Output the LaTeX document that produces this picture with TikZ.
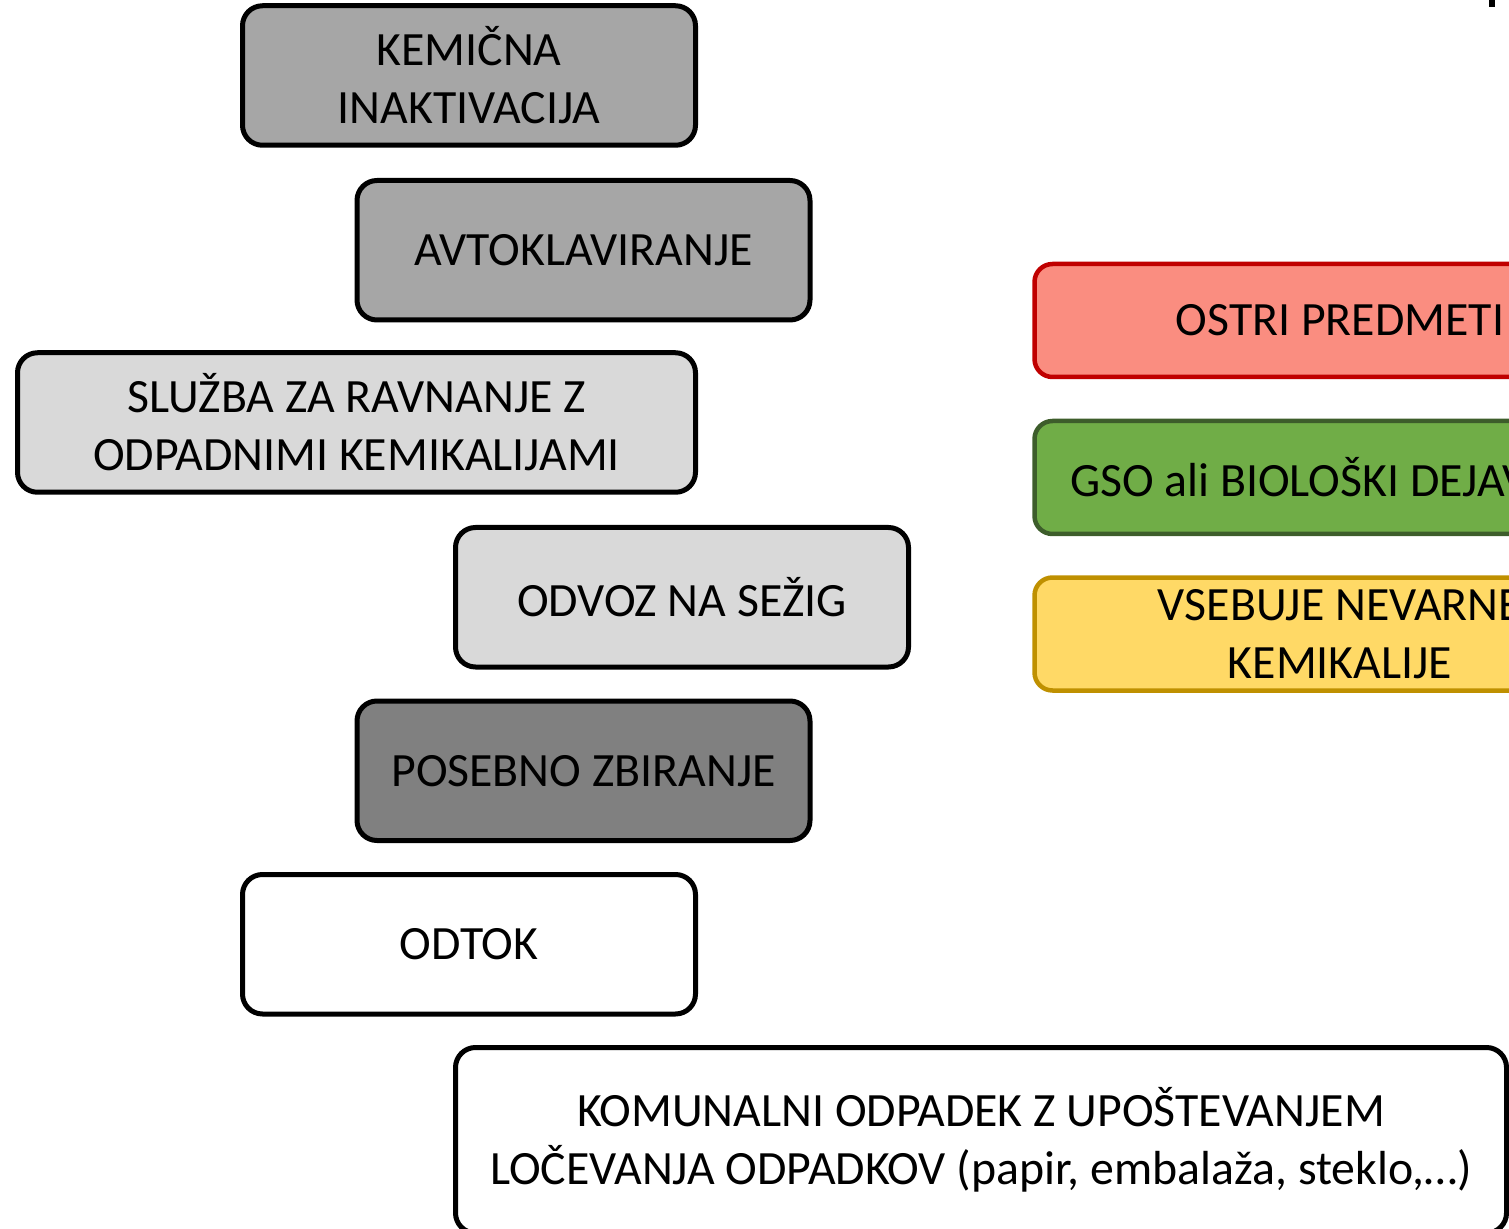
\documentclass[tikz,border=0pt]{standalone}
\usepackage{fontspec}
\setmainfont{Carlito}
\definecolor{greyA}{HTML}{A6A6A6}
\definecolor{greyB}{HTML}{D9D9D9}
\definecolor{greyC}{HTML}{808080}
\definecolor{sharpfill}{RGB}{250,141,128}
\definecolor{sharpline}{HTML}{C00000}
\definecolor{gsofill}{HTML}{70AD47}
\definecolor{gsoline}{RGB}{61,93,43}
\definecolor{chemfill}{HTML}{FFD966}
\definecolor{chemline}{HTML}{BF9000}

\begin{document}
\begin{tikzpicture}[x=0.5pt, y=-0.5pt,
        box/.style={draw, line width=2.5pt, rounded corners=10pt, align=center, inner sep=0pt,
            minimum width=226.5pt, minimum height=69.75pt, font=\fontsize{23.9}{29}\selectfont},
        tag/.style={draw, line width=2.25pt, rounded corners=9pt, align=center, inner sep=0pt,
            minimum width=305.5pt, minimum height=56.5pt, font=\fontsize{23.9}{29}\selectfont}]
        \useasboundingbox (0,0) rectangle (1509,1229);
        \clip (0,0) rectangle (1509,1229);

        % left column of treatments
        \node[box, fill=greyA] (kemicna) at (469,75.5) {KEMIČNA\\INAKTIVACIJA};
        \node[box, fill=greyA] (avtoklav) at (583.5,250.25) {AVTOKLAVIRANJE};
        \node[box, fill=greyB, minimum width=339pt] (sluzba) at (356.5,422.5) {SLUŽBA ZA RAVNANJE Z\\ODPADNIMI KEMIKALIJAMI};
        \node[box, fill=greyB] (odvoz) at (682,597.25) {ODVOZ NA SEŽIG};
        \node[box, fill=greyC] (posebno) at (583.5,770.75) {POSEBNO ZBIRANJE};
        \node[box, fill=white] (odtok) at (469,944.25) {ODTOK};
        \node[box, fill=white, minimum width=525.5pt, minimum height=92.75pt] (komunalni) at (981,1140.25)
            {KOMUNALNI ODPADEK Z UPOŠTEVANJEM\\LOČEVANJA ODPADKOV (papir, embalaža, steklo,…)};

        % right column of waste types
        \node[tag, fill=sharpfill, draw=sharpline] (ostri) at (1340,320.5) {OSTRI PREDMETI};
        \node[tag, fill=gsofill, draw=gsoline] (gso) at (1340,477.5) {GSO ali BIOLOŠKI DEJAVNIKI};
        \node[tag, fill=chemfill, draw=chemline] (nevarne) at (1340,634) {VSEBUJE NEVARNE\\KEMIKALIJE};

        \fill[black] (1489,0) rectangle (1495,7);
    \end{tikzpicture}
\end{document}
